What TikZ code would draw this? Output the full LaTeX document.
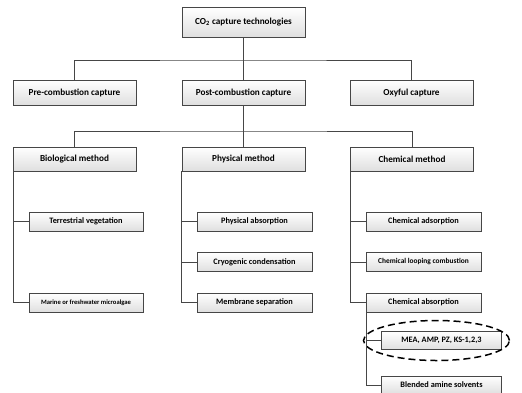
\documentclass[tikz,border=0pt]{standalone}
\usepackage{fontspec}
\setmainfont{Carlito}
\usetikzlibrary{positioning, shadows, shapes.geometric}

\tikzset{
  box/.style = {rectangle, draw=gray!55!black, line width=0.8pt,
    top color=white, bottom color=gray!25, inner sep=1pt,
    drop shadow={shadow xshift=0.8pt, shadow yshift=-0.8pt, opacity=0.35},
    font=\bfseries\fontsize{9.2}{10}\selectfont},
  bigbox/.style = {box, minimum width=123pt, minimum height=25pt},
  leaf/.style = {box, minimum width=114pt, minimum height=19pt,
    font=\bfseries\fontsize{8.3}{9}\selectfont},
  link/.style = {draw=gray!55!black, line width=0.9pt},
}

\begin{document}
\begin{tikzpicture}[x=1pt, y=-1pt]
   \useasboundingbox (0,0) rectangle (522,392);

   \node[bigbox, minimum height=30pt] (top) at (243.5,22) {CO\textsubscript{2} capture technologies};

   \node[bigbox] (pre)  at (74.5,92.5)  {Pre-combustion capture};
   \node[bigbox] (post) at (243.5,92.5) {Post-combustion capture};
   \node[bigbox] (oxy)  at (411.5,92.5) {Oxyful capture};

   \node[bigbox, minimum height=24pt] (bio)  at (74.5,159)  {Biological method};
   \node[bigbox, minimum height=24pt] (phys) at (243.5,159) {Physical method};
   \node[bigbox, minimum height=24pt] (chem) at (412,159)   {Chemical method};

   \node[leaf] (terr)   at (86,221.5) {Terrestrial vegetation};
   \node[leaf, font=\bfseries\fontsize{6.6}{8}\selectfont] (marine) at (86,302.5) {Marine or freshwater microalgae};

   \node[leaf, minimum width=115pt] (physabs) at (254.5,221.5) {Physical absorption};
   \node[leaf, minimum width=115pt] (cryo)    at (254.5,262)   {Cryogenic condensation};
   \node[leaf, minimum width=115pt] (memb)    at (254.5,302.5) {Membrane separation};

   \node[leaf, minimum width=115pt] (chemads)  at (423.5,221.5) {Chemical adsorption};
   \node[leaf, minimum width=115pt, font=\bfseries\fontsize{7.4}{8}\selectfont] (chemloop) at (423.5,262) {Chemical looping combustion};
   \node[leaf, minimum width=115pt] (chemabs)  at (423.5,302.5) {Chemical absorption};

   \node[leaf, minimum width=120pt, minimum height=18pt] (mea)   at (441.5,340.5) {MEA, AMP, PZ, KS-1,2,3};
   \node[leaf, minimum width=120pt, minimum height=18pt] (blend) at (441.5,385)   {Blended amine solvents};

   \node[ellipse, draw=black, line width=1.5pt, dash pattern=on 7pt off 4pt,
         minimum width=146pt, minimum height=40pt] (ring) at (436.5,340.5) {};

   % buses
   \coordinate (bus1) at (243.5,60);
   \coordinate (bus2) at (243.5,131);

   \draw[link] (top.south) -- (post.north);
   \draw[link] (pre.north) |- (bus1) -| (oxy.north);
   \draw[link] (post.south) -- (phys.north);
   \draw[link] (bio.north) |- (bus2) -| (chem.north);
   %
   \draw[link] ([xshift=1pt]bio.south west) |- (terr.west);
   \draw[link] ([xshift=1pt]bio.south west) |- (marine.west);
   %
   \draw[link] (phys.south west) |- (physabs.west);
   \draw[link] (phys.south west) |- (cryo.west);
   \draw[link] (phys.south west) |- (memb.west);
   %
   \draw[link] (chem.south west) |- (chemads.west);
   \draw[link] (chem.south west) |- (chemloop.west);
   \draw[link] (chem.south west) |- (chemabs.west);
   %
   \draw[link] ([xshift=1pt]chemabs.south west) |- (mea.west);
   \draw[link] ([xshift=1pt]chemabs.south west) |- (blend.west);
\end{tikzpicture}
\end{document}
